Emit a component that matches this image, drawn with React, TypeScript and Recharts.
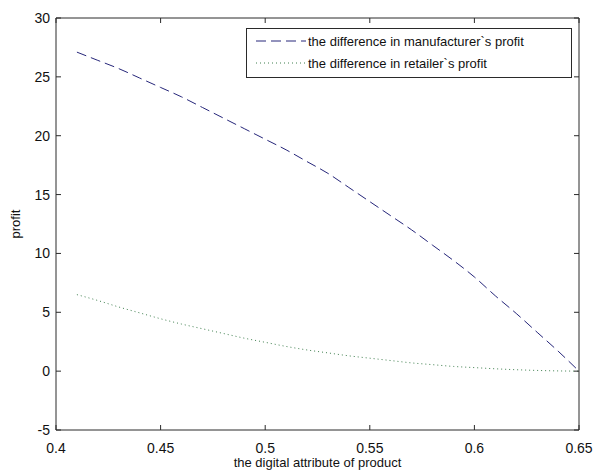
import React from "react";
import { LineChart, Line, XAxis, YAxis, Legend } from "recharts";

const xValues = [0.41, 0.42, 0.43, 0.44, 0.45, 0.46, 0.47, 0.48, 0.49, 0.5, 0.51, 0.52, 0.53, 0.54, 0.55, 0.56, 0.57, 0.58, 0.59, 0.6, 0.61, 0.62, 0.63, 0.64, 0.65];
const manufacturerDiff = [27.1, 26.4, 25.7, 24.9, 24.1, 23.3, 22.4, 21.5, 20.6, 19.7, 18.8, 17.8, 16.8, 15.6, 14.4, 13.2, 12.0, 10.7, 9.4, 8.0, 6.4, 4.9, 3.3, 1.7, 0];
const retailerDiff = [6.5, 6.0, 5.45, 4.95, 4.45, 4.0, 3.6, 3.2, 2.8, 2.45, 2.1, 1.8, 1.55, 1.3, 1.1, 0.9, 0.7, 0.55, 0.4, 0.3, 0.2, 0.12, 0.06, 0.02, 0];

const xTicks = [0.4, 0.45, 0.5, 0.55, 0.6, 0.65];
const xTickLabels = ["0.4", "0.45", "0.5", "0.55", "0.6", "0.65"];
const yTicks = [-5, 0, 5, 10, 15, 20, 25, 30];

const data = xValues.map((x, i) => ({ x, manufacturer: manufacturerDiff[i], retailer: retailerDiff[i] }));

const FONT = "'Liberation Sans', Arial, sans-serif";
const AXIS = "#2a2a2a";
const BLUE = "#26267a";
const GREEN = "#3f7f4f";
const TICK_LEN = 5;
const X_MARGIN = 7;
const Y_MARGIN = 6;

const fmtX = (v: number) => {
  const i = xTicks.findIndex((t) => Math.abs(t - v) < 1e-9);
  return i >= 0 ? xTickLabels[i] : String(v);
};

// inward tick marks, the axis line sits tickMargin away from the label anchor
function BottomTick({ x, y, payload }: any) {
  const ay = y - X_MARGIN;
  return (
    <g>
      <line x1={x} y1={ay} x2={x} y2={ay - TICK_LEN} stroke={AXIS} />
      <text x={x} y={y + 16} textAnchor="middle" fontSize={14} fill="#111" fontFamily={FONT}>{fmtX(payload.value)}</text>
    </g>
  );
}

function TopTick({ x, y }: any) {
  const ay = y + X_MARGIN;
  return <line x1={x} y1={ay} x2={x} y2={ay + TICK_LEN} stroke={AXIS} />;
}

function LeftTick({ x, y, payload }: any) {
  const ax = x + Y_MARGIN;
  return (
    <g>
      <line x1={ax} y1={y} x2={ax + TICK_LEN} y2={y} stroke={AXIS} />
      <text x={x} y={y + 5} textAnchor="end" fontSize={14} fill="#111" fontFamily={FONT}>{payload.value}</text>
    </g>
  );
}

function RightTick({ x, y }: any) {
  const ax = x - Y_MARGIN;
  return <line x1={ax} y1={y} x2={ax - TICK_LEN} y2={y} stroke={AXIS} />;
}

function LegendBox(props: any) {
  const items = (props.payload || []).filter((p: any) => p.type !== "none");
  return (
    <div style={{ border: `1px solid ${AXIS}`, background: "#fff", padding: "1px 6px 3px 9px", fontFamily: FONT, fontSize: 13, color: "#111", boxSizing: "border-box" }}>
      {items.map((p: any) => (
        <div key={p.value} style={{ display: "flex", alignItems: "center", height: 22 }}>
          <svg width={50} height={10} style={{ marginRight: 2 }}>
            <line x1={0} y1={5} x2={50} y2={5} stroke={p.color} strokeWidth={1} strokeDasharray={p.payload?.strokeDasharray} />
          </svg>
          <span>{p.value}</span>
        </div>
      ))}
    </div>
  );
}

export default function App() {
  return (
    <div style={{ position: "absolute", left: 0, top: 0, width: 595, height: 470, background: "#fff" }}>
      <LineChart width={595} height={470} data={data} margin={{ top: 17, right: 15, bottom: 0, left: 0 }}>
        <XAxis
          dataKey="x"
          type="number"
          domain={[0.4, 0.65]}
          ticks={xTicks}
          allowDataOverflow
          height={40}
          stroke={AXIS}
          tickLine={false}
          tickSize={0}
          tickMargin={X_MARGIN}
          tick={<BottomTick />}
          label={{ value: "the digital attribute of product", position: "insideBottom", offset: 3, style: { fontSize: 13, fill: "#111", fontFamily: FONT } }}
        />
        <XAxis
          xAxisId="top"
          dataKey="x"
          orientation="top"
          type="number"
          domain={[0.4, 0.65]}
          ticks={xTicks}
          allowDataOverflow
          height={1}
          stroke={AXIS}
          tickLine={false}
          tickSize={0}
          tickMargin={X_MARGIN}
          tick={<TopTick />}
        />
        <YAxis
          type="number"
          domain={[-5, 30]}
          ticks={yTicks}
          width={56}
          stroke={AXIS}
          tickLine={false}
          tickSize={0}
          tickMargin={Y_MARGIN}
          tick={<LeftTick />}
          label={{ value: "profit", angle: -90, position: "center", dx: -13, style: { fontSize: 13, fill: "#111", fontFamily: FONT, textAnchor: "middle" } }}
        />
        <YAxis
          yAxisId="right"
          orientation="right"
          type="number"
          domain={[-5, 30]}
          ticks={yTicks}
          width={1}
          stroke={AXIS}
          tickLine={false}
          tickSize={0}
          tickMargin={Y_MARGIN}
          tick={<RightTick />}
        />
        <Legend
          layout="horizontal"
          verticalAlign="middle"
          align="center"
          content={<LegendBox />}
          wrapperStyle={{ top: 28, left: 246, width: 326 }}
        />
        <Line
          type="monotone"
          dataKey="manufacturer"
          name="the difference in manufacturer`s profit"
          stroke={BLUE}
          strokeWidth={1}
          strokeDasharray="10 5"
          dot={false}
          isAnimationActive={false}
        />
        <Line
          type="monotone"
          dataKey="retailer"
          name="the difference in retailer`s profit"
          stroke={GREEN}
          strokeWidth={1}
          strokeDasharray="1 3"
          dot={false}
          isAnimationActive={false}
        />
        <Line
          xAxisId="top"
          yAxisId="right"
          dataKey="manufacturer"
          stroke="none"
          legendType="none"
          dot={false}
          activeDot={false}
          isAnimationActive={false}
        />
      </LineChart>
    </div>
  );
}
